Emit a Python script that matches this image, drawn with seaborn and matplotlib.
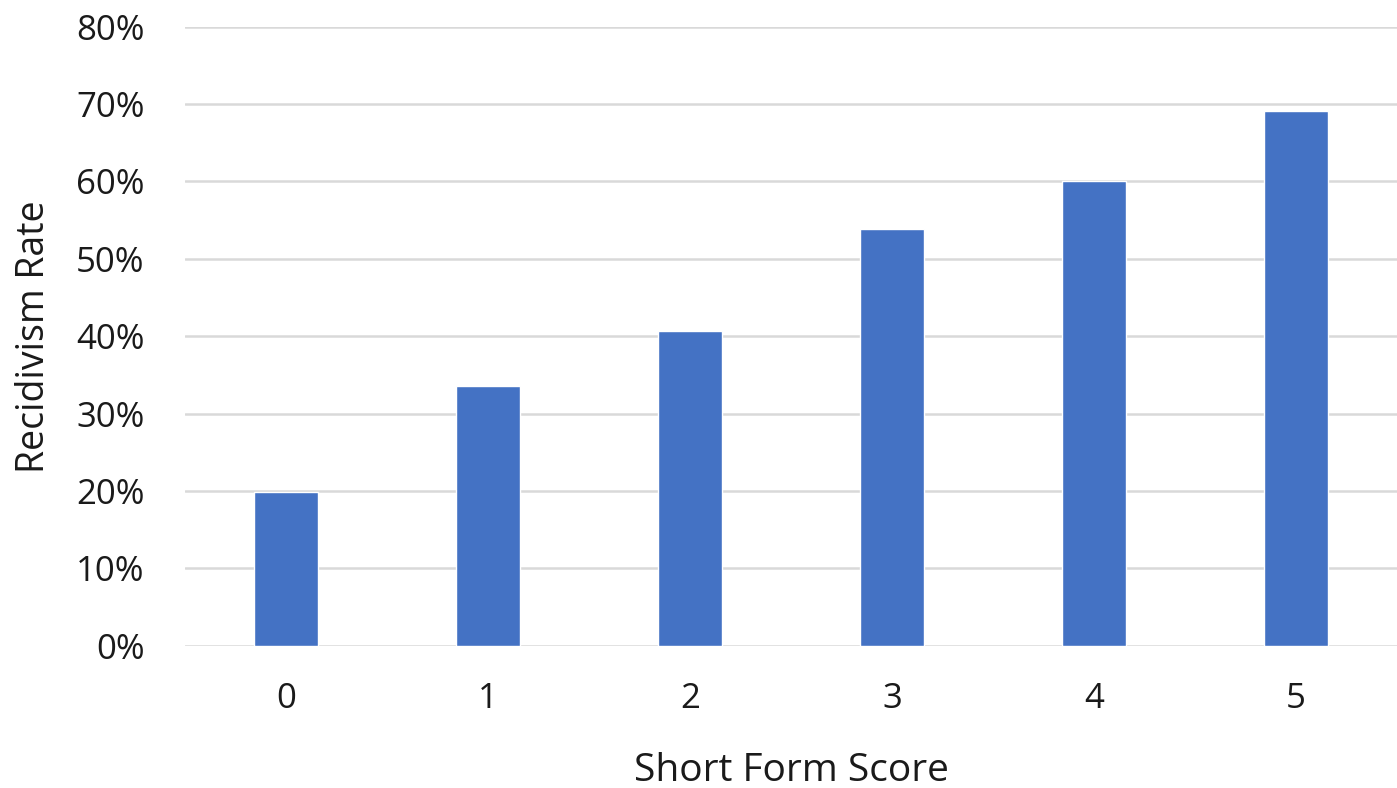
import matplotlib
matplotlib.use("Agg")
import matplotlib.pyplot as plt
import seaborn as sns
import pandas as pd
from matplotlib.ticker import PercentFormatter

# values
scores = ["0", "1", "2", "3", "4", "5"]
rates = [0.199, 0.336, 0.407, 0.538, 0.600, 0.691]

BAR_COLOR = "#4472C4"
GRID_COLOR = "#D9D9D9"
TEXT_COLOR = "#1A1A1A"

sns.set_theme(style="white")
plt.rcParams["font.family"] = ["Open Sans", "DejaVu Sans"]

df = pd.DataFrame({"score": scores, "rate": rates})

fig = plt.figure(figsize=(13.97, 7.88), dpi=100)
ax = fig.add_axes([0.1324, 0.1806, 0.8676, 0.7855])

sns.barplot(data=df, x="score", y="rate", color=BAR_COLOR, width=0.315,
            saturation=1, ax=ax, zorder=3)

ax.set_ylim(0, 0.8)
ax.set_xlim(-0.5, 5.5)
ax.set_yticks([i / 10 for i in range(9)])
ax.yaxis.set_major_formatter(PercentFormatter(1.0, decimals=0))
ax.grid(axis="y", color=GRID_COLOR, linewidth=1.8, zorder=0)
ax.set_axisbelow(True)

for side in ["top", "right", "left", "bottom"]:
    ax.spines[side].set_visible(False)

ax.tick_params(axis="both", length=0, labelsize=25, colors=TEXT_COLOR)
ax.tick_params(axis="y", pad=29)
ax.tick_params(axis="x", pad=26)

ax.set_xlabel("Short Form Score", fontsize=28, color=TEXT_COLOR, labelpad=26)
ax.set_ylabel("Recidivism Rate", fontsize=27, color=TEXT_COLOR, labelpad=17)

fig.savefig("out.png", dpi=100)
plt.close(fig)
